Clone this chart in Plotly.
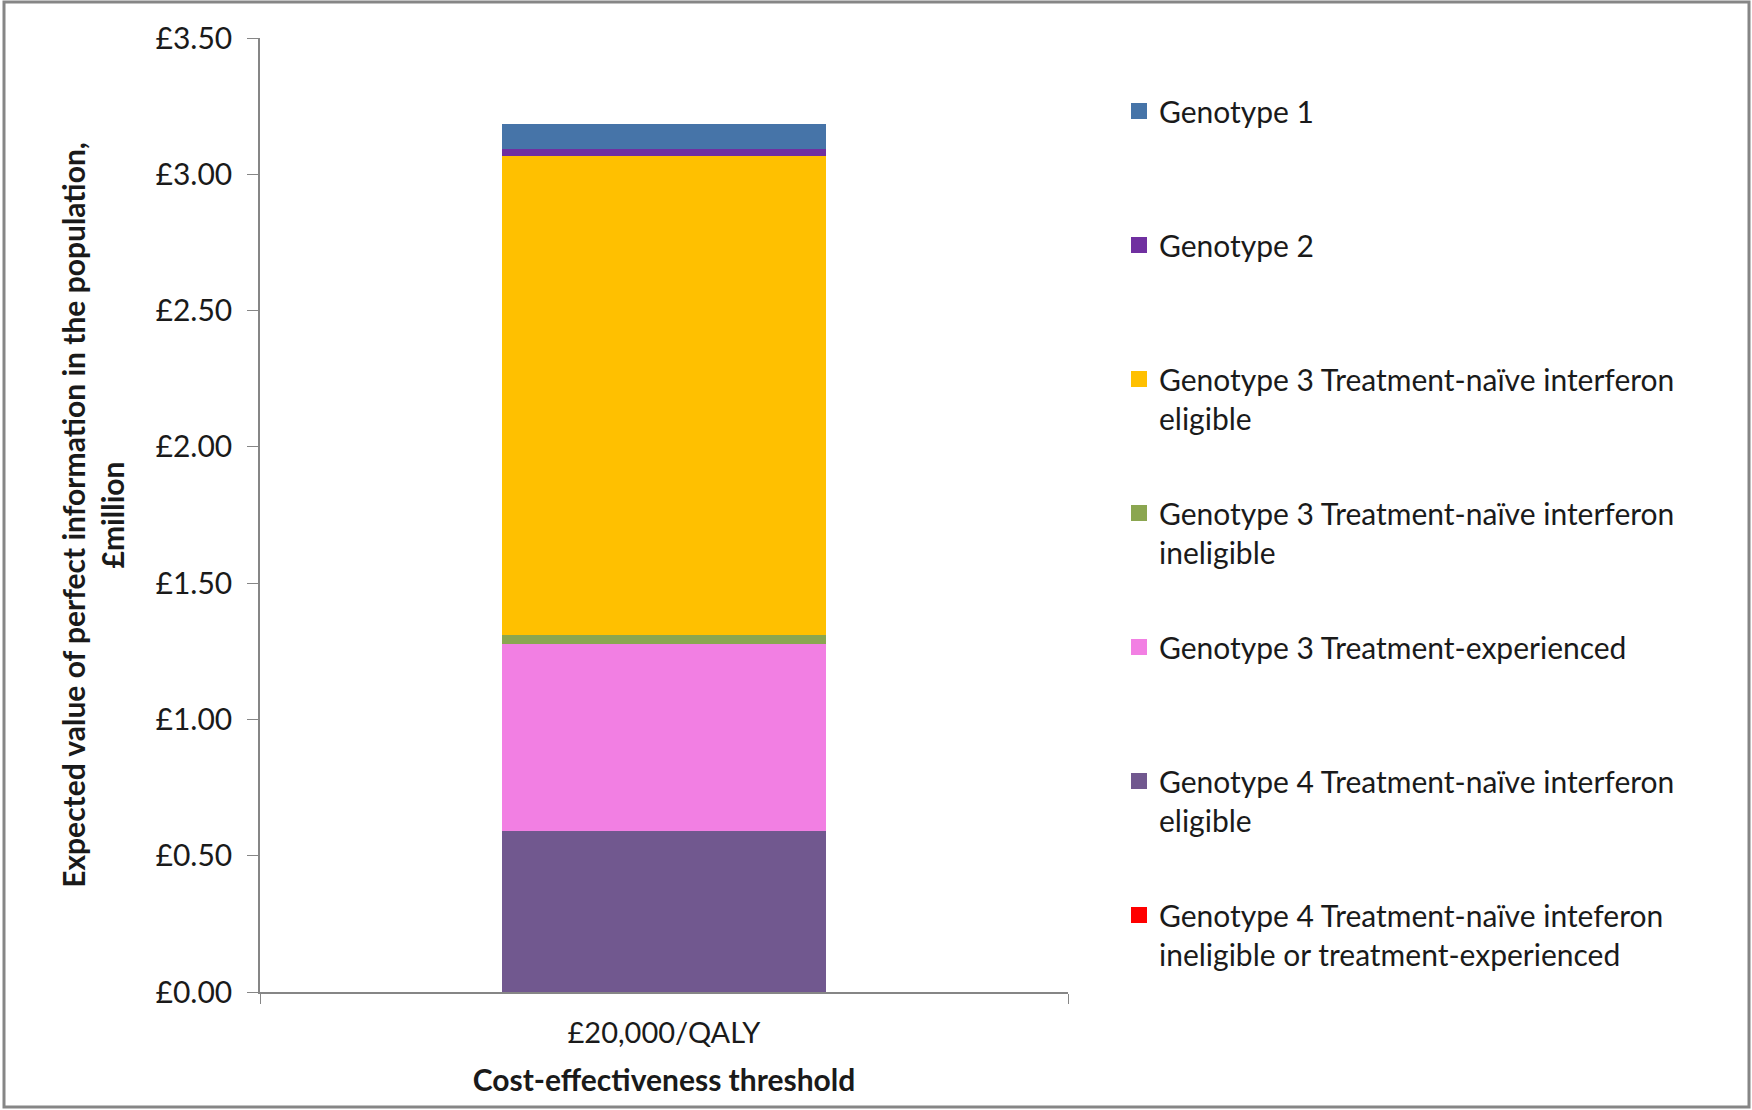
import plotly.graph_objects as go

# ---- data (bottom of stack first) ----
category = ["£20,000/QALY"]
series_names = [
    "Genotype 4 Treatment-naïve inteferon<br>ineligible or treatment-experienced",
    "Genotype 4 Treatment-naïve interferon<br>eligible",
    "Genotype 3 Treatment-experienced",
    "Genotype 3 Treatment-naïve interferon<br>ineligible",
    "Genotype 3 Treatment-naïve interferon<br>eligible",
    "Genotype 2",
    "Genotype 1",
]
series_values = [0.0, 0.589, 0.689, 0.033, 1.757, 0.023, 0.092]
series_colors = ["#FF0000", "#71588F", "#F27FE3", "#8BA650", "#FFC000", "#7030A0", "#4674A8"]
y_tickvals = [0, 0.5, 1.0, 1.5, 2.0, 2.5, 3.0, 3.5]
y_ticktext = ["£0.00", "£0.50", "£1.00", "£1.50", "£2.00", "£2.50", "£3.00", "£3.50"]

W, H = 1752, 1110
ML, MR, MT, MB = 260, W - 1068, 38, H - 992
PW, PH = W - ML - MR, H - MT - MB

FONT = "Lato"
TXT = "#1a1a1a"
AX = "#868686"
FS = 30

fig = go.Figure()
n = len(series_names)
for i, (name, val, col) in enumerate(zip(series_names, series_values, series_colors)):
    fig.add_trace(go.Bar(
        x=category, y=[val], name=name, showlegend=False,
        marker=dict(color=col, line=dict(width=0)), width=0.4,
    ))
for i, (name, col) in enumerate(zip(series_names, series_colors)):
    label = name if "<br>" in name else name + "<br> "
    fig.add_trace(go.Scatter(
        x=[None], y=[None], mode="markers", name=label,
        legendgroup="g%d" % i, legendrank=n - i,
        marker=dict(symbol="square", size=16, color=col, line=dict(width=0)),
    ))

def px_to_paper_x(px):
    return (px - ML) / PW

def px_to_paper_y(py):
    return (H - MB - py) / PH

fig.update_layout(
    width=W, height=H,
    margin=dict(l=ML, r=MR, t=MT, b=MB, pad=0),
    barmode="stack",
    plot_bgcolor="white", paper_bgcolor="white",
    font=dict(family=FONT, size=FS, color=TXT),
    showlegend=True,
    legend=dict(
        traceorder="grouped", tracegroupgap=53, valign="top",
        x=px_to_paper_x(1119), xanchor="left",
        y=px_to_paper_y(85), yanchor="top",
        font=dict(family=FONT, size=FS, color=TXT),
        bgcolor="rgba(0,0,0,0)",
    ),
    xaxis=dict(
        range=[-0.5, 0.5], showline=True, linecolor=AX, linewidth=1.5,
        ticks="outside", tickson="boundaries", ticklen=10, tickcolor=AX,
        showgrid=False, zeroline=False, ticklabelstandoff=14,
        tickfont=dict(family=FONT, size=29, color=TXT),
        title=dict(text="<b>Cost-effectiveness threshold</b>", standoff=22,
                   font=dict(family=FONT, size=FS, color=TXT)),
    ),
    yaxis=dict(
        range=[0, 3.5], tickvals=y_tickvals, ticktext=y_ticktext,
        showline=True, linecolor=AX, linewidth=1.5,
        ticks="outside", ticklen=11, tickcolor=AX,
        showgrid=False, zeroline=False, ticklabelstandoff=9,
        tickfont=dict(family=FONT, size=FS, color=TXT),
        title=dict(text="<b>Expected value of perfect information in the population,<br>£million</b>",
                   standoff=22, font=dict(family=FONT, size=FS, color=TXT)),
    ),
)

# outer chart border
fig.add_shape(type="rect", xref="paper", yref="paper",
              x0=px_to_paper_x(4), x1=px_to_paper_x(1749),
              y0=px_to_paper_y(1107), y1=px_to_paper_y(2),
              line=dict(color=AX, width=3), fillcolor="rgba(0,0,0,0)", layer="below")

fig.write_html("out.html")
